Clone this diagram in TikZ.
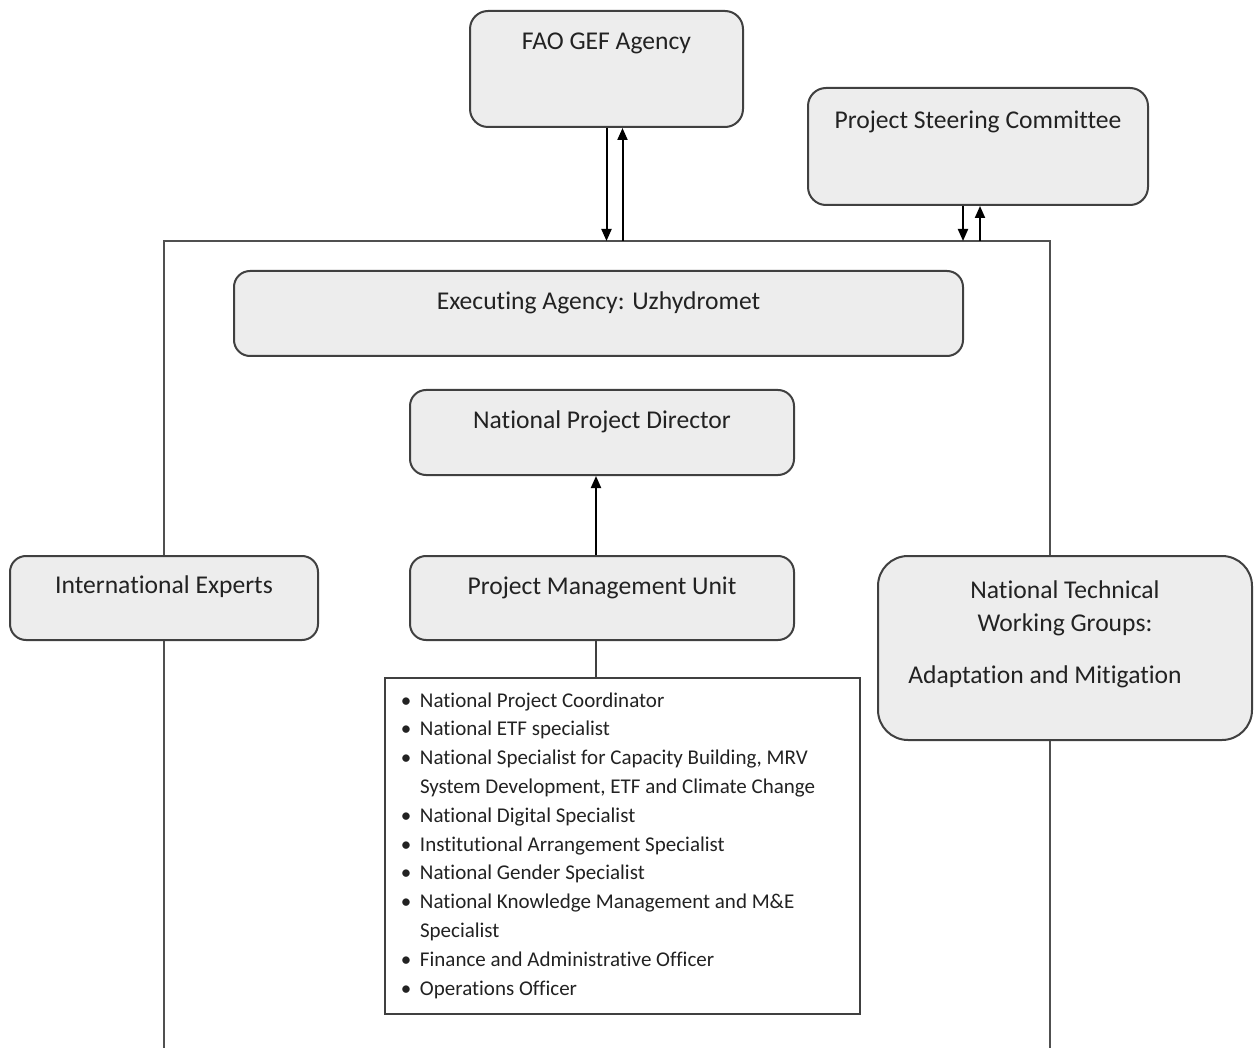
\documentclass[tikz,border=0pt]{standalone}
\usepackage{fontspec}
\setmainfont{Carlito}[Ligatures={NoCommon,NoContextual,NoRare},Contextuals=NoAlternate]
\usetikzlibrary{arrows.meta}
\definecolor{boxfill}{HTML}{EDEDED}
\definecolor{boxline}{HTML}{404040}
\definecolor{txt}{HTML}{222222}
\definecolor{frameline}{HTML}{505050}
\begin{document}
\begin{tikzpicture}[x=0.5pt,y=-0.5pt,
  box/.style={draw=boxline, fill=boxfill, line width=1pt, rounded corners=9pt,
    anchor=north west, inner xsep=0pt, inner ysep=0pt, text=txt,
    font=\fontsize{12.8}{16.5}\selectfont},
  listbox/.style={draw=boxline, fill=white, line width=1pt, anchor=north west,
    inner xsep=0pt, inner ysep=0pt, text=txt, font=\fontsize{10.5}{14.4}\selectfont},
  arr/.style={draw=black, line width=1pt, -{Triangle[length=6pt,width=5pt]}},
  plain/.style={draw=boxline, line width=1pt},
  frm/.style={draw=frameline, line width=1pt}]
\useasboundingbox (0,0) rectangle (1254,1048);
% open frame
\coordinate (fbl) at (164,1048);
\coordinate (ftl) at (164,241);
\coordinate (ftr) at (1050,241);
\coordinate (fbr) at (1050,1048);
\draw[frm] (fbl) -- (ftl) -- (ftr) -- (fbr);
% boxes
\node[box, minimum width=136.5pt, text height=19.5pt, text depth=38.5pt] (fao) at (469,10) {FAO GEF Agency};
\node[box, minimum width=170pt, text height=20.5pt, text depth=38pt] (psc) at (807,87) {Project Steering Committee};
\node[box, rounded corners=8pt, minimum width=364.5pt, text height=19.5pt, text depth=23pt] (exe) at (233,270) {Executing Agency: Uzhydromet};
\node[box, rounded corners=8pt, minimum width=192pt, text height=19.5pt, text depth=23pt] (npd) at (409,389) {National Project Director};
\node[box, rounded corners=8pt, minimum width=192pt, text height=19pt, text depth=23pt] (pmu) at (409,555) {Project Management Unit};
\node[box, rounded corners=8pt, minimum width=154pt, text height=18.5pt, text depth=23.5pt] (ie) at (9,555) {International Experts};
\node[box, rounded corners=15pt, minimum width=187pt, text height=21pt, text depth=71pt] (ntwg) at (877,555)
  {\begin{tabular}[t]{@{}c@{}}National Technical\\ Working Groups:\\[9.5pt] Adaptation and Mitigation\hspace*{20pt}\end{tabular}};
\node[listbox, minimum width=237.5pt, text height=14.5pt, text depth=153.5pt] (lst) at (384,677)
  {\makebox[237.5pt][l]{\begin{tabular}[t]{@{\hspace{7.5pt}}l@{\hspace{4pt}}l@{}}
   \makebox[6pt]{\textbullet} & National Project Coordinator\\
   \makebox[6pt]{\textbullet} & National ETF specialist\\
   \makebox[6pt]{\textbullet} & National Specialist for Capacity Building, MRV\\
    & System Development, ETF and Climate Change\\
   \makebox[6pt]{\textbullet} & National Digital Specialist\\
   \makebox[6pt]{\textbullet} & Institutional Arrangement Specialist\\
   \makebox[6pt]{\textbullet} & National Gender Specialist\\
   \makebox[6pt]{\textbullet} & National Knowledge Management and M\&E\\
    & Specialist\\
   \makebox[6pt]{\textbullet} & Finance and Administrative Officer\\
   \makebox[6pt]{\textbullet} & Operations Officer
  \end{tabular}}};
% connectors
\draw[arr] (fao.south) -- (fao.south |- ftl);
\draw[arr] ([xshift=8pt]fao.south |- ftl) -- ([xshift=8pt]fao.south);
\draw[arr] ([xshift=-7.5pt]psc.south) -- ([xshift=-7.5pt]psc.south |- ftl);
\draw[arr] ([xshift=1pt]psc.south |- ftl) -- ([xshift=1pt]psc.south);
\draw[arr] ([xshift=-3pt]pmu.north) -- ([xshift=-3pt]npd.south);
\draw[plain] ([xshift=-3pt]pmu.south) -- ([xshift=-3pt]pmu.south |- lst.north);
\end{tikzpicture}
\end{document}
